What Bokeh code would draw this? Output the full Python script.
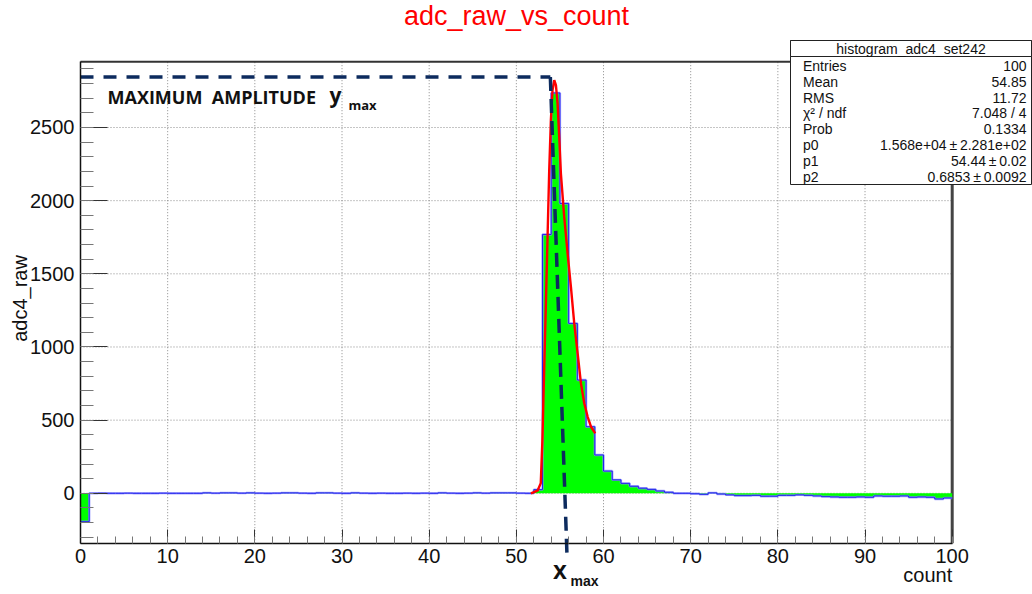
from bokeh.plotting import figure
from bokeh.models import Range1d, SingleIntervalTicker, Label, LinearAxis
from bokeh.embed import file_html
from bokeh.resources import INLINE
import math

# histogram adc4_raw per count bin (bins of width 1 from 0 to 100)
bin_edges = list(range(0, 101))
adc_counts = [
    -194, 0, 1, 0, 0, 1, 0, 0, 0, 1,
    0, 0, 0, 0, 3, 1, 3, 3, 1, 3,
    1, 0, 1, 3, 3, 1, 0, 3, 3, 1,
    0, 3, 1, 0, 1, 0, 0, 1, 0, 1,
    0, 3, 1, 0, 1, 3, 1, 3, 3, 3,
    1, 0, 25, 1769, 2736, 1981, 1161, 774, 455, 262,
    152, 92, 68, 48, 35, 27, 16, 7, 0, 0,
    -3, -7, 3, -5, -11, -16, -16, -14, -20, -20,
    -14, -14, -11, -14, -18, -23, -25, -27, -27, -25,
    -27, -18, -20, -20, -18, -27, -25, -27, -39, -32,
]

# fitted curve (red)
fit_x = [51.67, 52.43, 52.8, 52.99, 53.19, 53.39, 53.58, 53.77, 53.96, 54.15,
         54.35, 54.54, 54.73, 54.92, 55.11, 55.49, 55.88, 56.26, 56.64, 57.03,
         57.41, 57.79, 58.18, 58.56, 59.05]
fit_y = [0, 18, 68, 364, 842, 1298, 1753, 2208, 2550, 2755,
         2823, 2789, 2663, 2436, 2185, 1889, 1639, 1411, 1161, 956,
         751, 615, 523, 455, 410]

# hand drawn guide for the maximum
y_max = 2845
x_top = 53.9
x_bottom = 55.8
y_bottom = -405

x_ticks = [0, 10, 20, 30, 40, 50, 60, 70, 80, 90, 100]
y_ticks = [0, 500, 1000, 1500, 2000, 2500]

stat_title = "histogram_adc4_set242"
stat_names = ["Entries", "Mean", "RMS", "\u03c7\u00b2 / ndf", "Prob", "p0", "p1", "p2"]
stat_values = ["100", "54.85", "11.72", "7.048 / 4", "0.1334",
               "1.568e+04\u2009\u00b1\u20092.281e+02", "54.44\u2009\u00b1\u20090.02",
               "0.6853\u2009\u00b1\u20090.0092"]

FONT = "Liberation Sans"
W, H = 1032, 594
# pixel box of the drawing area (ROOT frame) inside the canvas
fl, fr, ft, fb = 80.0, 951.7, 61.3, 542.7
x_lo, x_hi = 0, 100
y_lo, y_hi = -341, 2949

sx = (fr - fl) / (x_hi - x_lo)
sy = (fb - ft) / (y_hi - y_lo)


def px2x(px):
    return x_lo + (px - fl) / sx


def px2y(py):
    return y_lo + (fb - py) / sy


p = figure(width=W, height=H, output_backend="svg", toolbar_location=None,
           x_range=Range1d(px2x(0), px2x(W)), y_range=Range1d(px2y(H), px2y(0)),
           x_axis_type=None, y_axis_type=None, min_border=0)
p.outline_line_color = None
p.xgrid.visible = False
p.ygrid.visible = False

xax = LinearAxis(ticker=SingleIntervalTicker(interval=10, num_minor_ticks=5),
                 fixed_location=y_lo, bounds=(x_lo, x_hi))
yax = LinearAxis(ticker=SingleIntervalTicker(interval=500, num_minor_ticks=5),
                 fixed_location=x_lo, bounds=(y_lo, y_hi))
p.add_layout(xax, "below")
p.add_layout(yax, "left")
for ax in (xax, yax):
    ax.major_label_text_font = FONT
    ax.major_label_text_font_size = "20px"
    ax.major_label_text_color = "#111111"
    ax.axis_line_color = "#111111"
    ax.axis_line_width = 1.5
    ax.major_tick_out = 0
    ax.minor_tick_out = 0
    ax.major_tick_line_color = "#333333"
    ax.minor_tick_line_color = "#777777"
    ax.major_label_standoff = 6
xax.major_tick_in = 14
xax.minor_tick_in = 7
yax.major_tick_in = 27
yax.minor_tick_in = 13

# dotted grid at the major ticks
gx = [t for t in x_ticks if x_lo < t < x_hi]
p.segment(x0=gx, y0=[y_lo] * len(gx), x1=gx, y1=[y_hi] * len(gx),
          line_color="#8a8a8a", line_dash="1 2", line_width=1)
p.segment(x0=[x_lo] * len(y_ticks), y0=y_ticks, x1=[x_hi] * len(y_ticks), y1=y_ticks,
          line_color="#8a8a8a", line_dash="1 2", line_width=1)

# frame top and right
p.line([x_lo, x_hi], [y_hi, y_hi], line_color="#333333", line_width=2)
p.line([x_hi, x_hi], [y_lo, y_hi], line_color="#444444", line_width=3)

# histogram
steps_y = adc_counts + [adc_counts[-1]]
p.varea_step(x=bin_edges, y1=[0] * len(bin_edges), y2=steps_y, step_mode="after",
             fill_color="#00ff00")
p.step(x=bin_edges, y=steps_y, mode="after",
       line_color="#8c8cff", line_width=2.4, line_alpha=0.75)
p.step(x=bin_edges, y=steps_y, mode="after",
       line_color="#2222ee", line_width=1)

# fit
p.line(fit_x, fit_y, line_color="#ff0000", line_width=2.4)

# guide lines
p.line([x_lo, x_top], [y_max, y_max], line_color="#0d2b5e", line_width=3.5, line_dash="13 10")
p.line([x_top, x_bottom], [y_max, y_bottom], line_color="#0d2b5e", line_width=3.5, line_dash="14 8")

# statistics box
p.quad(left=px2x(790), right=px2x(1031), top=px2y(40), bottom=px2y(184),
       fill_color="white", line_color="#222222", line_width=1)
p.quad(left=px2x(790), right=px2x(1031), top=px2y(40), bottom=px2y(56),
       fill_color="white", line_color="#222222", line_width=1)


def label(px, py, text, size, **kw):
    kw.setdefault("text_font", FONT)
    kw.setdefault("text_color", "#111111")
    p.add_layout(Label(x=px2x(px), y=px2y(py), text=text, text_font_size=size, **kw))


label(516, 30, "adc_raw_vs_count", "27px", text_align="center", text_color="#ff0000")
label(19, 298, "adc4_raw", "20px", angle=math.pi / 2, text_align="center", text_baseline="middle")
label(951.7, 585, "count", "20px", text_align="right")
label(559.5, 583, "x", "25px", text_align="center", text_font_style="bold")
label(570, 588, "max", "14px", text_font_style="bold")
label(107, 108.5, "MAXIMUM\u00a0 AMPLITUDE", "18px", text_font="Open Sans", text_font_style="bold")
label(329, 108.5, "y", "21px", text_font="Open Sans", text_font_style="bold")
label(348, 113.3, "max", "13px", text_font="Open Sans", text_font_style="bold")

label(910.5, 48, stat_title, "14px", text_align="center", text_baseline="middle")
row_py = [65, 81, 97, 112.5, 128, 144, 160, 176]
for name, val, py in zip(stat_names, stat_values, row_py):
    label(802.5, py, name, "14px", text_baseline="middle")
    label(1026, py, val, "14px", text_align="right", text_baseline="middle")

open("out.html", "w").write(file_html(p, INLINE))
